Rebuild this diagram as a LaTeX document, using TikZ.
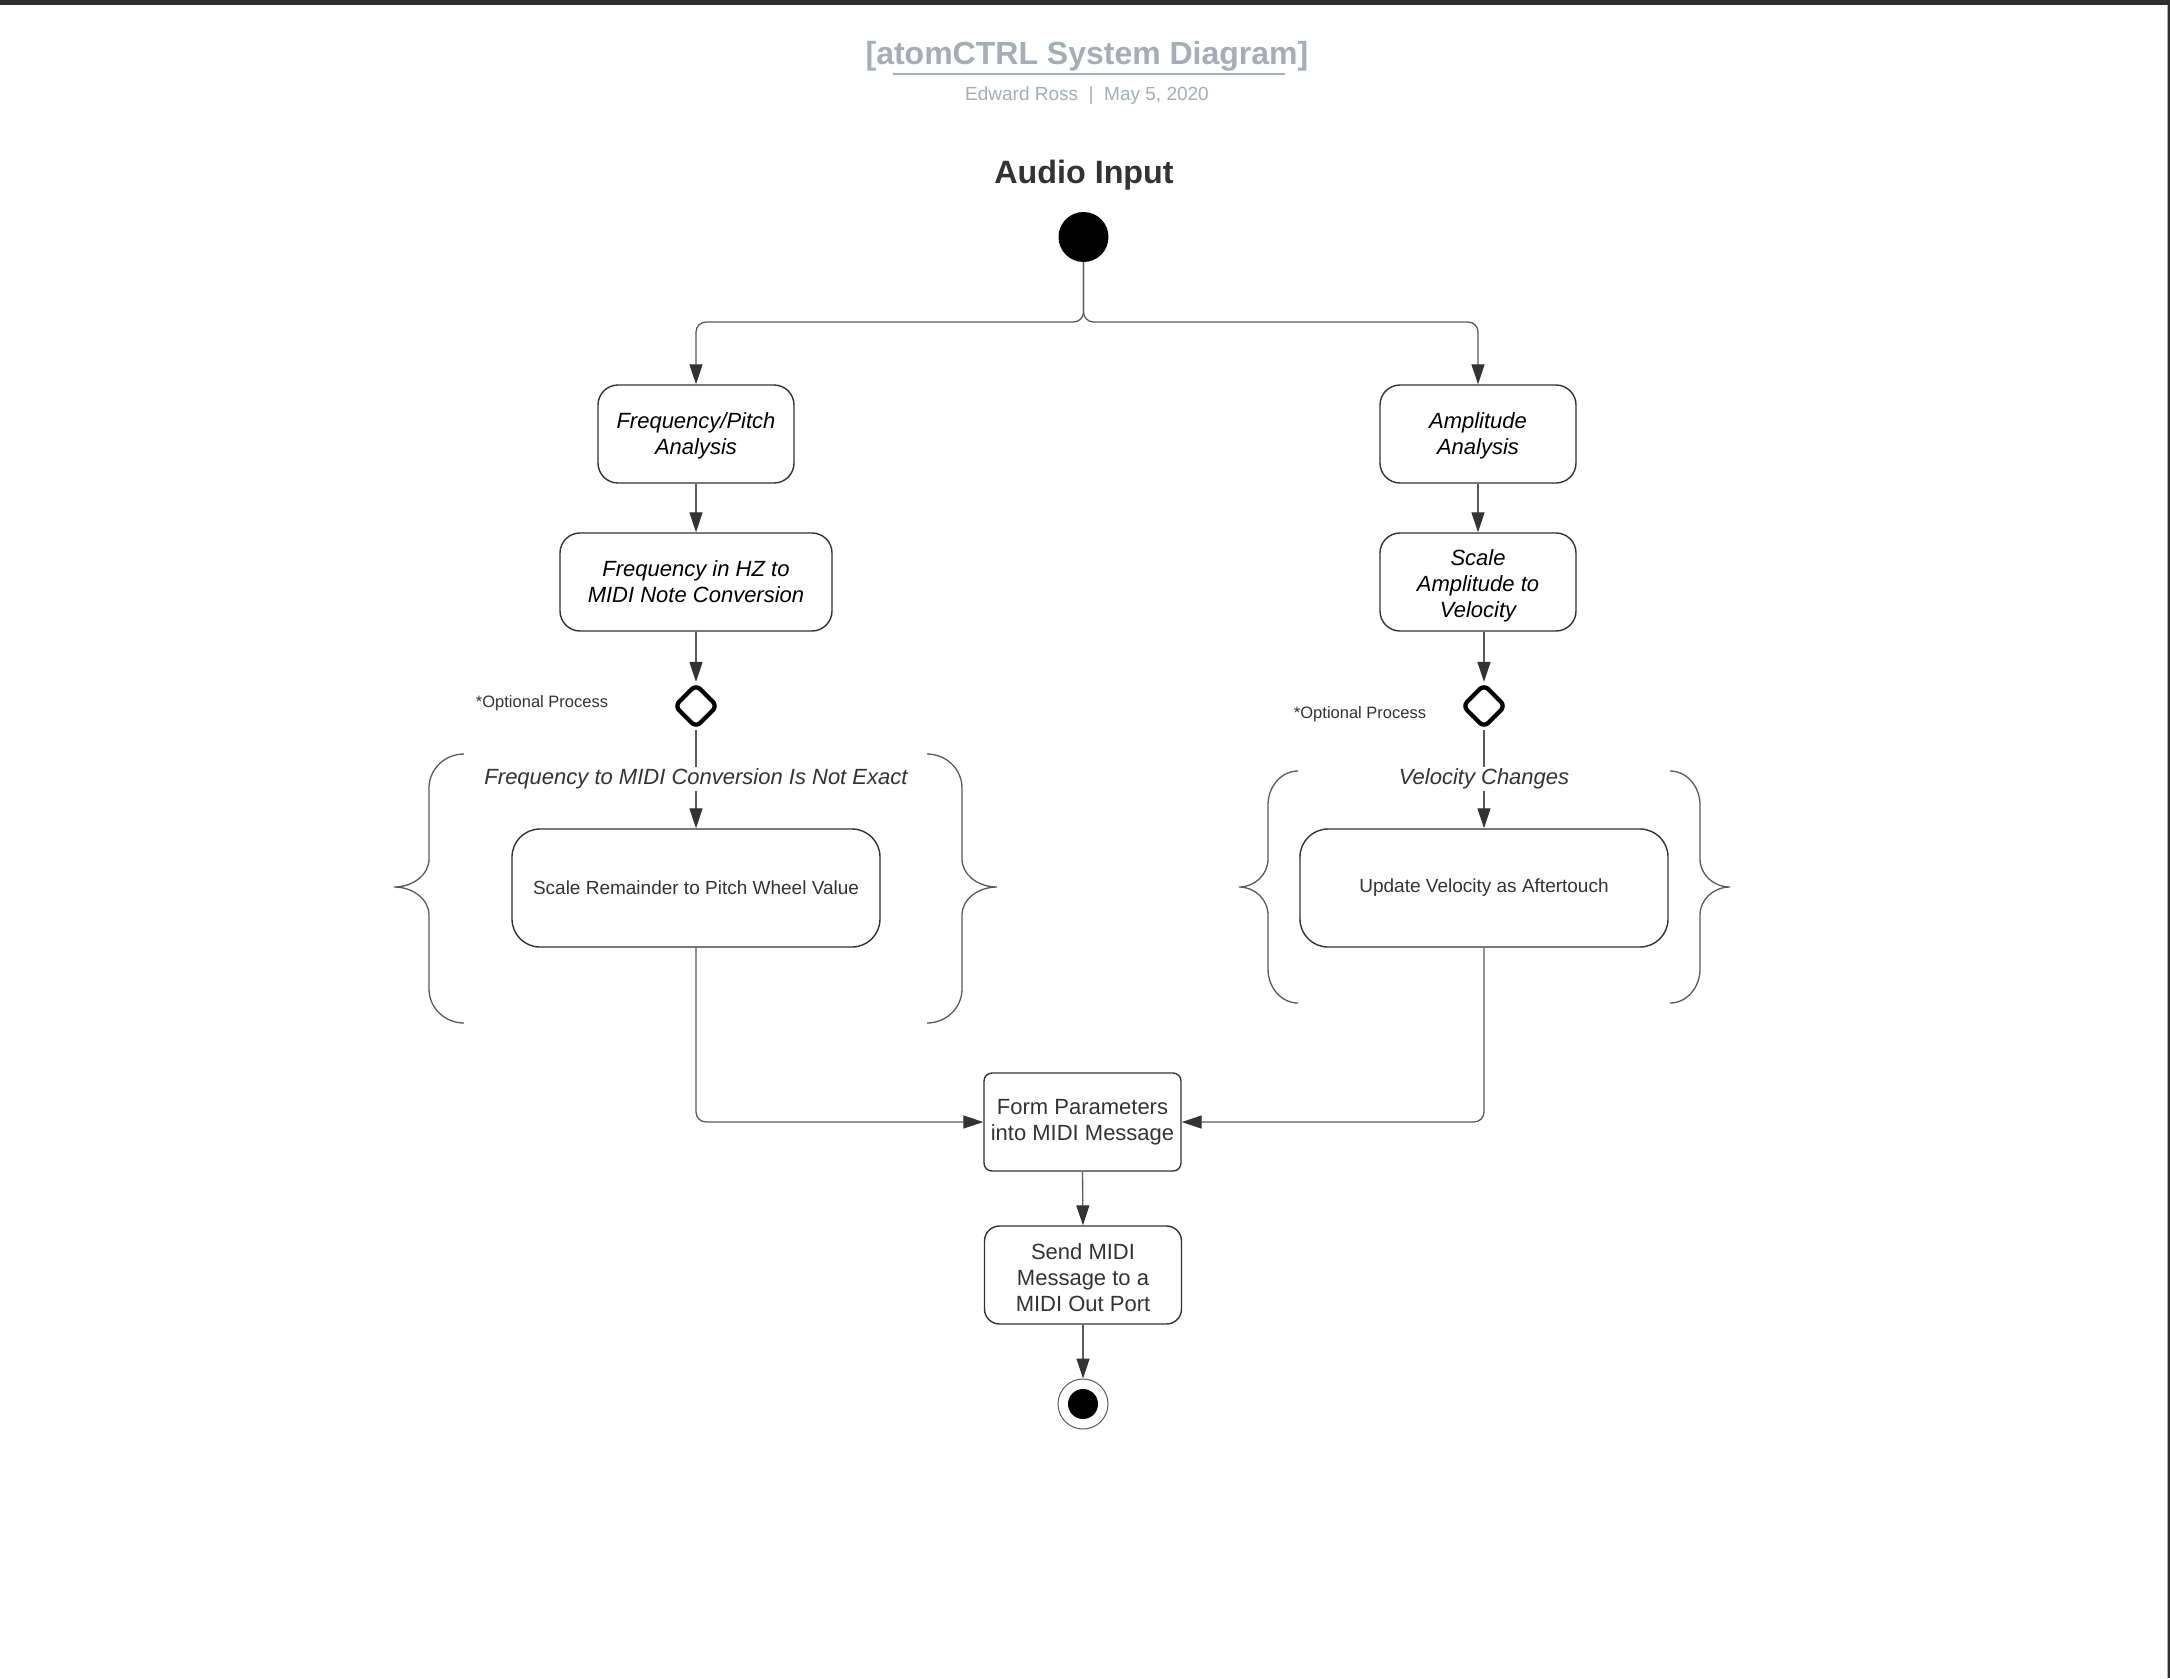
\documentclass[tikz,border=0pt]{standalone}
\usepackage{fontspec}
\setmainfont{Liberation Sans}
\usetikzlibrary{shapes.geometric,arrows.meta}
\definecolor{ink}{HTML}{333333}
\definecolor{lin}{HTML}{5A5A5A}
\definecolor{ttl}{HTML}{A7ADB6}
\definecolor{bar}{HTML}{2E2E2E}
\newcommand\mystrut[1]{\rule{0pt}{#1pt}}
% x0 xv xt ytop ymid ybot
\newcommand\mybrace[6]{%
 \draw[brc] (#1,#4) .. controls ({#1+0.552*(#2-#1)},#4) and (#2,{#4+0.448*34}) .. (#2,{#4+34})
   -- (#2,{#5-28}) .. controls (#2,{#5-0.448*28}) and ({#3+0.552*(#2-#3)},#5) .. (#3,#5)
   .. controls ({#3+0.552*(#2-#3)},#5) and (#2,{#5+0.448*28}) .. (#2,{#5+28})
   -- (#2,{#6-34}) .. controls (#2,{#6-0.448*34}) and ({#1+0.552*(#2-#1)},#6) .. (#1,#6);}
\begin{document}
\begin{tikzpicture}[x=1pt,y=-1pt,
  box/.style={draw=ink, line width=1.4pt, rounded corners=20pt, align=center, inner sep=0pt, fill=white},
  upbox/.style={box, font=\itshape\fontsize{22}{26}\selectfont, text=black, minimum width=196pt, minimum height=98pt},
  lowbox/.style={box, font=\fontsize{22}{26}\selectfont, text=ink, minimum width=197pt, minimum height=98pt},
  widebox/.style={box, rounded corners=28pt, font=\fontsize{19}{23}\selectfont, text=ink, minimum width=368pt, minimum height=118pt},
  conn/.style={draw=lin, line width=1.3pt, -{Triangle[length=20pt,width=13pt,color=ink]}},
  brc/.style={draw=lin, line width=1.3pt},
  dia/.style={diamond, draw=black, line width=4.3pt, rounded corners=6pt, minimum width=44pt, minimum height=44pt, inner sep=0pt},
  lbl/.style={fill=white, inner sep=2pt, font=\itshape\fontsize{22}{26}\selectfont, text=ink},
  opt/.style={font=\fontsize{16.5}{20}\selectfont, text=ink}
]
\useasboundingbox (0,0) rectangle (2170,1678);
\fill[white] (0,0) rectangle (2170,1678);
\fill[bar] (0,0) rectangle (2170,4.7);
\fill[bar] (2167.5,0) rectangle (2170,1678);
\draw[gray!60, line width=1pt] (2167,4.7) -- (2167,1678);

% header
\node[anchor=base, font=\bfseries\fontsize{32}{38}\selectfont, text=ttl] (title) at (1087,64.5) {[atomCTRL System Diagram]};
\draw[ttl, line width=2.5pt] (893,74) -- (1285,74);
\node[anchor=base, font=\fontsize{19}{23}\selectfont, text=ttl] (sub) at (1087,100) {Edward Ross\ \ |\ \ May 5, 2020};
\node[anchor=base, font=\bfseries\fontsize{32.3}{38}\selectfont, text=ink] (audio) at (1084,183) {Audio Input};

% start
\node[circle, fill=black, minimum size=50pt, inner sep=0pt] (start) at (1083.5,237) {};
\coordinate (split) at (1083.5,322);

% boxes
\node[upbox] (fp) at (696,434) {\mystrut{20.5}Frequency/Pitch\\Analysis};
\node[upbox] (amp) at (1478,434) {\mystrut{20.5}Amplitude\\Analysis};
\node[upbox, minimum width=272pt] (hz) at (696,582) {Frequency in HZ to\\MIDI Note Conversion};
\node[upbox] (sav) at (1478,582) {\mystrut{24}Scale\\Amplitude to\\Velocity};

\node[dia] (dL) at (696,706) {};
\node[dia] (dR) at (1484,706) {};
\node[opt] (optL) at (542,703.5) {*Optional Process};
\node[opt] (optR) at (1360,714.5) {*Optional Process};

\node[widebox] (sr) at (696,888) {Scale Remainder to Pitch Wheel Value};
\node[widebox] (uv) at (1484,888) {Update Velocity as Aftertouch};

\node[lowbox, rounded corners=8pt] (form) at (1082.5,1122) {Form Parameters\\into MIDI Message};
\node[lowbox, rounded corners=15pt] (send) at (1083,1275) {\mystrut{22}Send MIDI\\Message to a\\MIDI Out Port};

\node[circle, draw=lin, line width=1pt, fill=white, minimum size=50pt, inner sep=0pt] (endO) at (1083,1404) {};
\node[circle, fill=black, minimum size=30pt, inner sep=0pt] (endI) at (endO.center) {};

% braces
\mybrace{464}{429}{394}{754}{887}{1023}
\mybrace{927}{962}{997}{754}{887}{1023}
\mybrace{1298}{1268}{1239}{771}{887}{1003}
\mybrace{1670}{1700}{1730}{771}{887}{1003}

% connectors
\draw[conn, rounded corners=10pt] (start.south) -- (split) -| (fp.north);
\draw[conn, rounded corners=10pt] (start.south) -- (split) -| (amp.north);
\draw[conn] (fp.south) -- (hz.north);
\draw[conn] (amp.south) -- (sav.north);
\draw[conn] (hz.south) -- (dL.north);
\draw[conn] (sav.south -| dR.north) -- (dR.north);
\draw[conn] (dL.south) -- node[lbl, pos=0.5] (lblL) {Frequency to MIDI Conversion Is Not Exact} (sr.north);
\draw[conn] (dR.south) -- node[lbl, pos=0.5] (lblR) {Velocity Changes} (uv.north);
\draw[conn, rounded corners=10pt] (sr.south) |- (form.west);
\draw[conn, rounded corners=10pt] (uv.south) |- (form.east);
\draw[conn] (form.south) -- (send.north);
\draw[conn] (send.south) -- (endO.north);
\end{tikzpicture}
\end{document}
